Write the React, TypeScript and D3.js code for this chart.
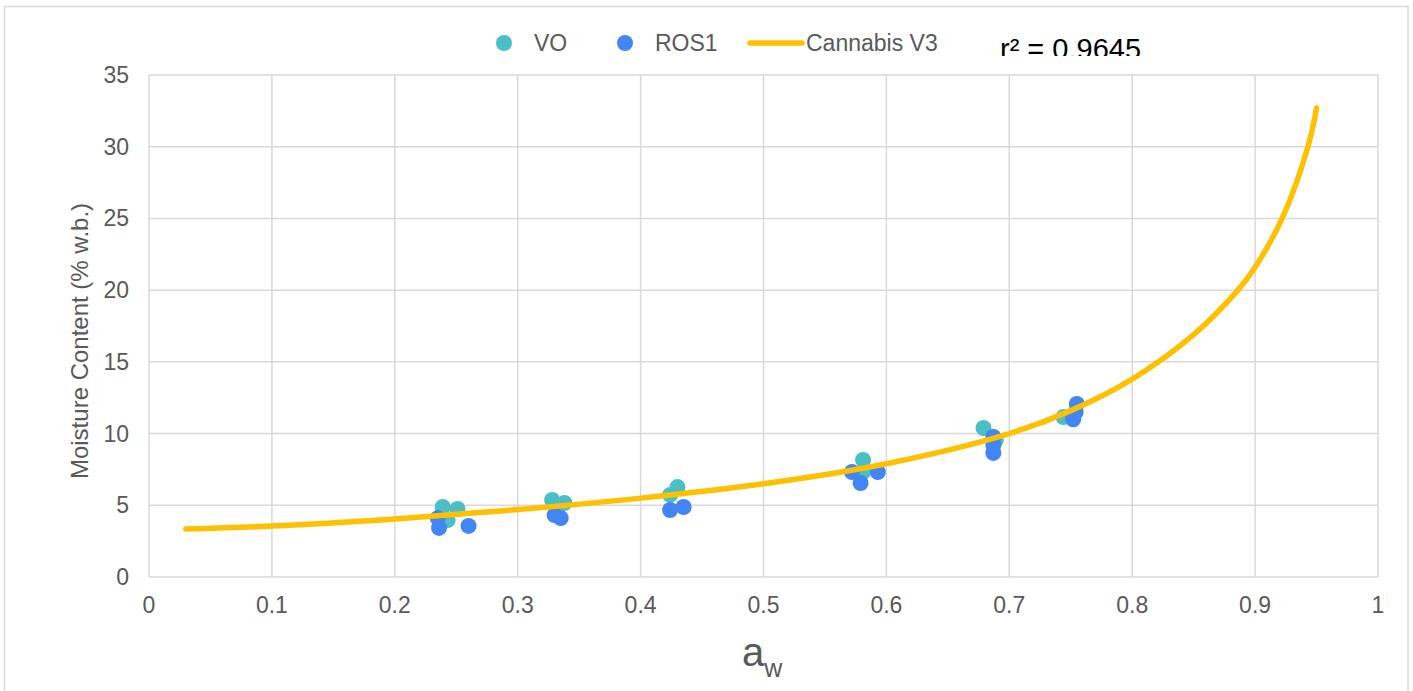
import React from "react";
import * as d3 from "d3";

// scatter data
const voAw = [0.239, 0.251, 0.243, 0.328, 0.338, 0.43, 0.424, 0.581, 0.581, 0.679, 0.689, 0.744];
const voMc = [4.88, 4.74, 3.97, 5.37, 5.16, 6.27, 5.72, 8.16, 7.32, 10.39, 9.55, 11.15];

const rosAw = [0.235, 0.236, 0.26, 0.33, 0.335, 0.424, 0.435, 0.572, 0.593, 0.579, 0.687, 0.687, 0.687, 0.755, 0.754, 0.752];
const rosMc = [4.11, 3.42, 3.56, 4.32, 4.11, 4.67, 4.88, 7.32, 7.32, 6.55, 9.76, 9.2, 8.65, 12.06, 11.5, 11.0];

// fitted model curve (Cannabis V3)
const fitAw = [0.03, 0.1, 0.2, 0.3, 0.4, 0.5, 0.6, 0.7, 0.75, 0.8, 0.85, 0.886, 0.9, 0.922, 0.943, 0.95];
const fitMc = [3.35, 3.55, 4.05, 4.7, 5.5, 6.5, 7.9, 10.0, 11.6, 13.8, 16.9, 20.0, 21.6, 25.0, 30.0, 32.7];

const xTicks = [0, 0.1, 0.2, 0.3, 0.4, 0.5, 0.6, 0.7, 0.8, 0.9, 1];
const yTicks = [0, 5, 10, 15, 20, 25, 30, 35];

const W = 1413;
const H = 691;
const FONT = "'Liberation Sans', Arial, sans-serif";
const GRID = "#d9d9d9";
const TXT = "#595959";

export default function App() {
  const x = d3.scaleLinear().domain([0, 1]).range([149, 1378]);
  const y = d3.scaleLinear().domain([0, 35]).range([577, 75]);

  const fit = fitAw.map((a, i) => [a, fitMc[i]] as [number, number]);
  const lineGen = d3
    .line<[number, number]>()
    .x((d) => x(d[0]))
    .y((d) => y(d[1]))
    .curve(d3.curveCatmullRom.alpha(0.5));

  return (
    <svg
      width={W}
      height={H}
      style={{ position: "absolute", left: 0, top: 0, display: "block", background: "#fff" }}
    >
      <defs>
        <clipPath id="r2clip">
          <rect x={980} y={20} width={200} height={36} />
        </clipPath>
      </defs>
      <rect x={4.5} y={6.5} width={1403.5} height={700} fill="#fff" stroke={GRID} strokeWidth={1.5} />

      {/* grid */}
      {yTicks.map((t) => (
        <line key={"gy" + t} x1={x(0)} x2={x(1)} y1={y(t)} y2={y(t)} stroke={GRID} strokeWidth={1.5} />
      ))}
      {xTicks.map((t) => (
        <line key={"gx" + t} x1={x(t)} x2={x(t)} y1={y(0)} y2={y(35)} stroke={GRID} strokeWidth={1.5} />
      ))}

      {/* tick labels */}
      {yTicks.map((t) => (
        <text key={"ly" + t} x={129} y={y(t) + 8} textAnchor="end" fontFamily={FONT} fontSize={23} fill={TXT}>
          {t}
        </text>
      ))}
      {xTicks.map((t) => (
        <text key={"lx" + t} x={x(t)} y={613} textAnchor="middle" fontFamily={FONT} fontSize={23} fill={TXT}>
          {t}
        </text>
      ))}

      {/* axis titles */}
      <text
        transform={`translate(88,${341}) rotate(-90)`}
        textAnchor="middle"
        fontFamily={FONT}
        fontSize={24}
        fill={TXT}
      >
        Moisture Content (% w.b.)
      </text>
      <text x={742} y={666} fontFamily={FONT} fontSize={40} fill={TXT}>
        a
        <tspan fontSize={25} dy={11}>
          w
        </tspan>
      </text>

      {/* points */}
      {voAw.map((a, i) => (
        <circle key={"vo" + i} cx={x(a)} cy={y(voMc[i])} r={8} fill="#4bbfc6" />
      ))}
      {rosAw.map((a, i) => (
        <circle key={"ros" + i} cx={x(a)} cy={y(rosMc[i])} r={8} fill="#4285f4" />
      ))}

      {/* model curve */}
      <path d={lineGen(fit) || ""} fill="none" stroke="#ffc000" strokeWidth={5.5} strokeLinecap="round" />

      {/* legend */}
      <circle cx={504} cy={43} r={8} fill="#4bbfc6" />
      <text x={534} y={51} fontFamily={FONT} fontSize={23} fill={TXT}>
        VO
      </text>
      <circle cx={625} cy={43} r={8} fill="#4285f4" />
      <text x={655} y={51} fontFamily={FONT} fontSize={23} fill={TXT}>
        ROS1
      </text>
      <line x1={750} x2={802} y1={43} y2={43} stroke="#ffc000" strokeWidth={5.5} strokeLinecap="round" />
      <text x={806} y={51} fontFamily={FONT} fontSize={23} fill={TXT}>
        Cannabis V3
      </text>

      <g clipPath="url(#r2clip)">
        <text x={1000} y={59} fontFamily={FONT} fontSize={29} fill="#000">
          r² = 0.9645
        </text>
      </g>
    </svg>
  );
}
